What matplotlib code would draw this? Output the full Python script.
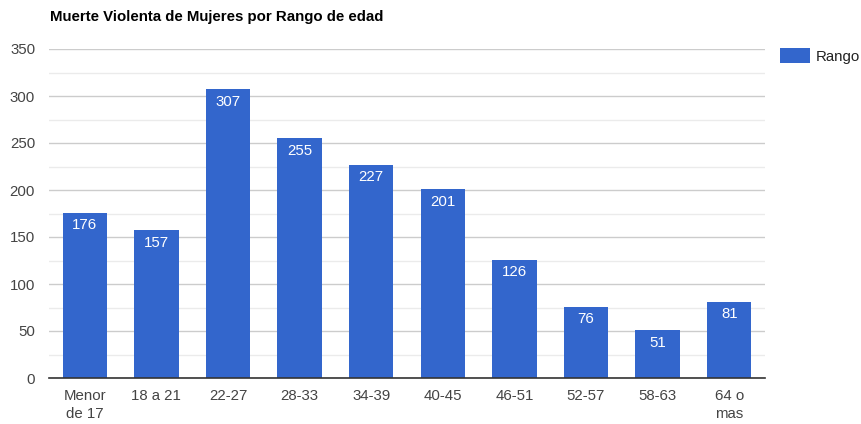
import matplotlib
matplotlib.use("Agg")
import matplotlib.pyplot as plt
from matplotlib.patches import Patch

categories = ["Menor\nde 17", "18 a 21", "22-27", "28-33", "34-39", "40-45", "46-51", "52-57", "58-63", "64 o\nmas"]
values = [176, 157, 307, 255, 227, 201, 126, 76, 51, 81]
yticks = [0, 50, 100, 150, 200, 250, 300, 350]
title = "Muerte Violenta de Mujeres por Rango de edad"
series_name = "Rango"

plt.rcParams['font.family'] = ['Liberation Sans', 'DejaVu Sans']
color = "#3366cc"
fs = 10.8

fig = plt.figure(figsize=(8.61, 4.24), dpi=100)
ax = fig.add_axes([49/861, 1-378/424, (765-49)/861, (378-49)/424])

x = list(range(len(categories)))
bars = ax.bar(x, values, width=0.62, color=color, zorder=3)
for xi, v in zip(x, values):
    ax.annotate(str(v), (xi, v), xytext=(0, -4), textcoords="offset points",
                ha="center", va="top", color="white", fontsize=fs, zorder=4)

ax.set_xlim(-0.5, len(categories) - 0.5)
ax.set_ylim(0, 350)
ax.set_yticks(yticks)
ax.set_yticks([25, 75, 125, 175, 225, 275, 325], minor=True)
ax.grid(axis="y", which="major", color="#cccccc", linewidth=1, zorder=0)
ax.grid(axis="y", which="minor", color="#ebebeb", linewidth=1, zorder=0)
ax.set_xticks(x)
ax.set_xticklabels(categories, fontsize=fs, color="#444444", linespacing=1.35)
ax.tick_params(axis="y", labelsize=fs, labelcolor="#444444", length=0, pad=10)
ax.tick_params(axis="x", length=0, pad=8)
ax.tick_params(which="minor", length=0)
for s in ["top", "right", "left"]:
    ax.spines[s].set_visible(False)
ax.spines["bottom"].set_color("#333333")
ax.spines["bottom"].set_linewidth(1.2)
ax.spines["bottom"].set_zorder(5)

fig.text(50/861, 1-17/424, title, fontsize=fs, fontweight="bold", ha="left", va="center", color="#000000")

fig.legend(handles=[Patch(facecolor=color, label=series_name)], loc="upper left",
           bbox_to_anchor=(777/861, 1-45/424), frameon=False, fontsize=fs,
           handlelength=2.0, handleheight=1.2, handletextpad=0.4, borderaxespad=0, borderpad=0.2,
           labelcolor="#222222")

fig.savefig("out.png", dpi=100)
